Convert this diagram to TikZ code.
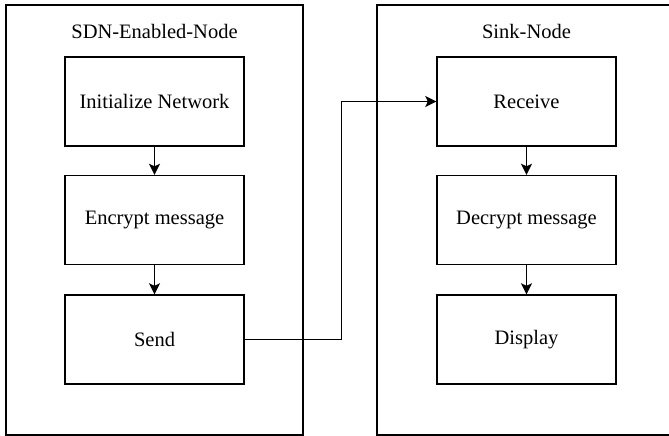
\documentclass[tikz,border=0pt]{standalone}
\usepackage{fontspec}
\setmainfont{Liberation Serif}
\usetikzlibrary{arrows.meta}
\begin{document}
\begin{tikzpicture}[x=1pt,y=-1pt,
  lane/.style={draw=black, line width=1.4pt, minimum width=297pt, minimum height=430pt, inner sep=0pt},
  lanetitle/.style={font=\fontsize{20.5}{24}\selectfont, text=black, inner sep=0pt},
  stepbox/.style={draw=black, line width=1.4pt, minimum width=179pt, minimum height=89pt,
    inner sep=0pt, font=\fontsize{20.5}{24}\selectfont, text=black},
  flow/.style={draw=black, line width=1.4pt, -{Stealth[length=11pt, width=11pt, inset=2.5pt]}}]
\useasboundingbox (0,0) rectangle (669,436);
\clip (0,0) rectangle (669,436);
\fill[white] (0,0) rectangle (669,436);

% swimlanes
\node[lane] (sdn) at (154.5,220) {};
\node[lane] (sink) at (525.5,220) {};
\node[lanetitle] (sdntitle) at (154.5,31) {SDN-Enabled-Node};
\node[lanetitle] (sinktitle) at (526.5,31) {Sink-Node};

% process steps, sender side
\node[stepbox] (init) at (154.5,101.5) {Initialize Network};
\node[stepbox] (enc) at (154.5,220) {Encrypt message};
\node[stepbox] (send) at (154.5,339.5) {Send};

% process steps, receiver side
\node[stepbox] (recv) at (526.5,101.5) {Receive};
\node[stepbox] (dec) at (526.5,220) {Decrypt message};
\node[stepbox] (disp) at (526.5,339.5) {Display};

\draw[flow] (init) -- (enc);
\draw[flow] (enc) -- (send);
\draw[flow] (recv) -- (dec);
\draw[flow] (dec) -- (disp);

% link between the two lanes
\coordinate (turn) at (341.5,0);
\draw[flow] (send.east) -- (send.east -| turn) |- (recv.west);
\end{tikzpicture}
\end{document}
